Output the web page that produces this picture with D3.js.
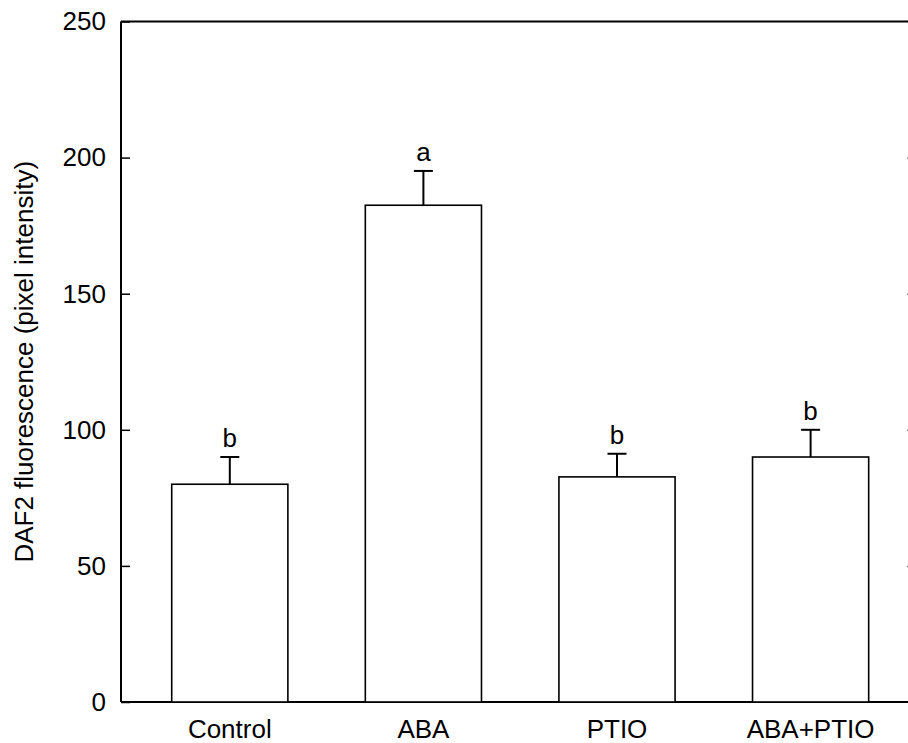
<!DOCTYPE html>
<html>
<head>
<meta charset="utf-8">
<script src="https://cdn.jsdelivr.net/npm/d3@7/dist/d3.min.js"></script>
<style>
  html, body { margin: 0; padding: 0; background: #fff; }
  svg { display: block; }
  text { font-family: "Liberation Sans", Arial, sans-serif; fill: #000; }
</style>
</head>
<body>
<svg id="chart" width="908" height="743"></svg>
<script>
const categories = ["Control", "ABA", "PTIO", "ABA+PTIO"];
const means = [80, 182.5, 82.7, 90];
const errors = [10, 12.6, 8.5, 10];
const letters = ["b", "a", "b", "b"];
const yTicks = [0, 50, 100, 150, 200, 250];
const yLabel = "DAF2 fluorescence (pixel intensity)";

(function () {
const svg = d3.select("#chart");
const mLeft = 121, mRight = 915.5, mTop = 21.5, mBottom = 702;
const fs = 26;

const y = d3.scaleLinear().domain([0, 250]).range([mBottom, mTop]);
const x = d3.scaleBand().domain(categories).range([133, 907.4]).paddingInner(0.4).paddingOuter(0.2);

// frame
svg.append("line").attr("x1", mLeft).attr("x2", 908).attr("y1", mTop).attr("y2", mTop)
  .attr("stroke", "#000").attr("stroke-width", 2);
svg.append("line").attr("x1", mLeft).attr("x2", 908).attr("y1", mBottom).attr("y2", mBottom)
  .attr("stroke", "#000").attr("stroke-width", 2);

// left axis, ticks inward
const yAxis = d3.axisLeft(y).tickValues(yTicks).tickSize(-9).tickPadding(15).tickFormat(d3.format("d"));
const gy = svg.append("g").attr("transform", `translate(${mLeft},0)`).call(yAxis);
gy.select(".domain").attr("stroke-width", 2).attr("d", `M0,${mTop}V${mBottom}`);
gy.selectAll(".tick line").attr("stroke-width", 1.5);
gy.selectAll(".tick text").attr("font-size", fs).style("font-family", "Liberation Sans, Arial, sans-serif");

// right axis (mostly off-screen), ticks inward
const yAxisR = d3.axisRight(y).tickValues(yTicks.slice(1, -1)).tickSize(-8).tickFormat("");
const gr = svg.append("g").attr("transform", `translate(${mRight},0)`).call(yAxisR);
gr.selectAll(".tick line").attr("stroke-width", 1.5);

// bars
svg.selectAll("rect.bar").data(categories).enter().append("rect")
  .attr("class", "bar")
  .attr("x", d => x(d))
  .attr("y", (d, i) => y(means[i]))
  .attr("width", x.bandwidth())
  .attr("height", (d, i) => mBottom - y(means[i]))
  .attr("fill", "#fff").attr("stroke", "#000").attr("stroke-width", 1.6);

// error bars
const cx = d => x(d) + x.bandwidth() / 2;
svg.selectAll("line.err").data(categories).enter().append("line")
  .attr("class", "err")
  .attr("x1", cx).attr("x2", cx)
  .attr("y1", (d, i) => y(means[i]))
  .attr("y2", (d, i) => y(means[i] + errors[i]))
  .attr("stroke", "#000").attr("stroke-width", 2);
svg.selectAll("line.cap").data(categories).enter().append("line")
  .attr("class", "cap")
  .attr("x1", d => cx(d) - 9.5).attr("x2", d => cx(d) + 9.5)
  .attr("y1", (d, i) => y(means[i] + errors[i]))
  .attr("y2", (d, i) => y(means[i] + errors[i]))
  .attr("stroke", "#000").attr("stroke-width", 2);

// significance letters
svg.selectAll("text.sig").data(categories).enter().append("text")
  .attr("class", "sig")
  .attr("x", cx)
  .attr("y", (d, i) => y(means[i] + errors[i]) - 10)
  .attr("text-anchor", "middle").attr("font-size", fs)
  .text((d, i) => letters[i]);

// x labels
svg.selectAll("text.xl").data(categories).enter().append("text")
  .attr("class", "xl")
  .attr("x", cx).attr("y", 738)
  .attr("text-anchor", "middle").attr("font-size", fs)
  .text(d => d);

// y label
svg.append("text")
  .attr("transform", `translate(33,${(mTop + mBottom) / 2}) rotate(-90)`)
  .attr("text-anchor", "middle").attr("font-size", fs)
  .text(yLabel);
})();
</script>
</body>
</html>
